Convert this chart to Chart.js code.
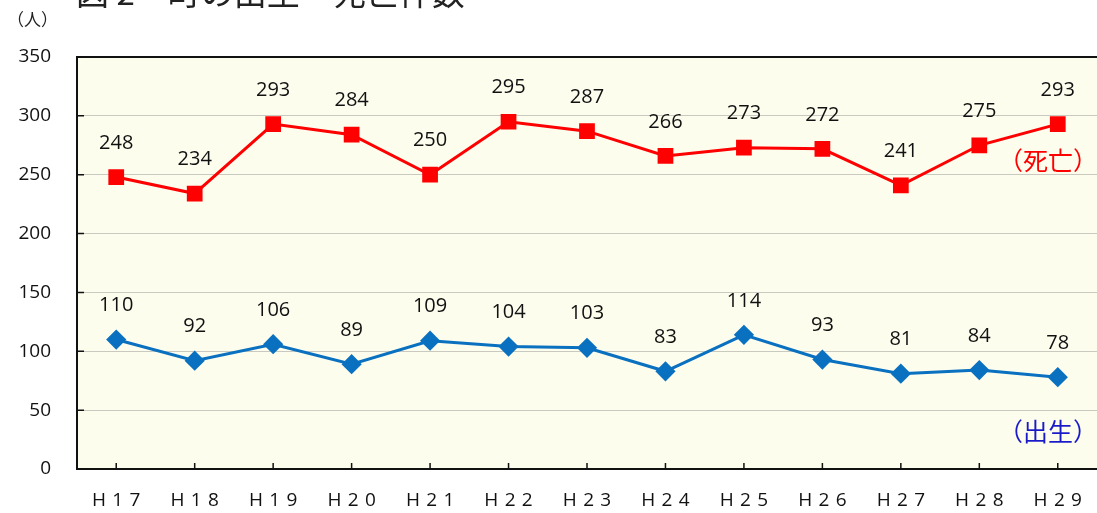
<!DOCTYPE html>
<html>
<head>
<meta charset="utf-8">
<script src="https://cdn.jsdelivr.net/npm/chart.js@4/dist/chart.umd.min.js"></script>
<style>
  body { margin: 0; background: #fff; }
  #wrap { position: relative; width: 1097px; height: 513px; overflow: hidden; }
  #title { position: absolute; left: 76px; top: -33px; font: 33px "Noto Sans CJK JP"; color: #222; white-space: pre; }
  #unit { position: absolute; left: 7px; top: 6px; font: 17px "Noto Sans CJK JP"; color: #222; }
</style>
</head>
<body>
<div id="wrap">
  <canvas id="chart" width="1097" height="513"></canvas>
  <div id="title">図 2　町の出生・死亡件数</div>
  <div id="unit">（人）</div>
</div>
<script>
const years = ["H17", "H18", "H19", "H20", "H21", "H22", "H23", "H24", "H25", "H26", "H27", "H28", "H29"];
const deaths = [248, 234, 293, 284, 250, 295, 287, 266, 273, 272, 241, 275, 293];
const births = [110, 92, 106, 89, 109, 104, 103, 83, 114, 93, 81, 84, 78];

// light yellow plot area, frame, inner tick marks and value labels
const decorate = {
  id: "decorate",
  beforeDraw(chart) {
    const { ctx, chartArea: a } = chart;
    ctx.save();
    ctx.fillStyle = "#FDFDEE";
    ctx.fillRect(a.left, a.top, a.right - a.left, a.bottom - a.top);
    ctx.restore();
  },
  afterDraw(chart) {
    const { ctx, chartArea: a, scales } = chart;
    ctx.save();
    ctx.strokeStyle = "#111";
    ctx.lineWidth = 2;
    ctx.beginPath();
    ctx.moveTo(a.right, a.top);
    ctx.lineTo(a.left, a.top);
    ctx.lineTo(a.left, a.bottom);
    ctx.lineTo(a.right, a.bottom);
    ctx.stroke();
    ctx.lineWidth = 1.5;
    ctx.beginPath();
    years.forEach((y, i) => {
      const x = scales.x.getPixelForValue(i);
      ctx.moveTo(x, a.bottom);
      ctx.lineTo(x, a.bottom - 6);
    });
    scales.y.ticks.forEach(t => {
      const y = scales.y.getPixelForValue(t.value);
      ctx.moveTo(a.left, y);
      ctx.lineTo(a.left + 7, y);
    });
    ctx.stroke();

    ctx.font = "20px 'Open Sans'";
    ctx.fillStyle = "#111";
    ctx.textAlign = "center";
    ctx.textBaseline = "middle";
    chart.data.datasets.forEach((ds, di) => {
      chart.getDatasetMeta(di).data.forEach((pt, i) => {
        ctx.fillText(ds.data[i], pt.x, pt.y - 34);
      });
    });

    ctx.font = "25px 'Noto Sans CJK JP'";
    ctx.textAlign = "right";
    ctx.fillStyle = "#FF0000";
    ctx.fillText("（死亡）", a.right + 1, scales.y.getPixelForValue(262));
    ctx.fillStyle = "#1A1AC8";
    ctx.fillText("（出生）", a.right + 1, scales.y.getPixelForValue(32));
    ctx.restore();
  }
};

new Chart(document.getElementById("chart"), {
  type: "line",
  data: {
    labels: years,
    datasets: [
      {
        label: "死亡",
        data: deaths,
        borderColor: "#FF0000",
        backgroundColor: "#FF0000",
        borderWidth: 3,
        pointStyle: "rect",
        pointRadius: 9,
        pointHoverRadius: 9,
        tension: 0
      },
      {
        label: "出生",
        data: births,
        borderColor: "#0A70C0",
        backgroundColor: "#0A70C0",
        borderWidth: 3,
        pointStyle: "rectRot",
        pointRadius: 8,
        pointHoverRadius: 8,
        tension: 0
      }
    ]
  },
  options: {
    responsive: false,
    animation: false,
    layout: { autoPadding: false, padding: { top: 57, right: 0, left: 0, bottom: 0 } },
    plugins: { legend: { display: false }, tooltip: { enabled: false } },
    scales: {
      x: {
        offset: true,
        grid: { display: false },
        border: { display: false },
        afterFit(s) { s.height = 44; },
        ticks: {
          color: "#111",
          font: { size: 19, family: "'Open Sans'" },
          padding: 12,
          callback: (v, i) => years[i].split("").join("\u2004")
        }
      },
      y: {
        min: 0,
        max: 350,
        afterFit(s) { s.width = 77; },
        grid: { color: "#C9C9C0", lineWidth: 1, drawTicks: false },
        border: { display: false },
        ticks: {
          stepSize: 50,
          color: "#111",
          font: { size: 19, family: "'Open Sans'" },
          padding: 26
        }
      }
    }
  },
  plugins: [decorate]
});
</script>
</body>
</html>
